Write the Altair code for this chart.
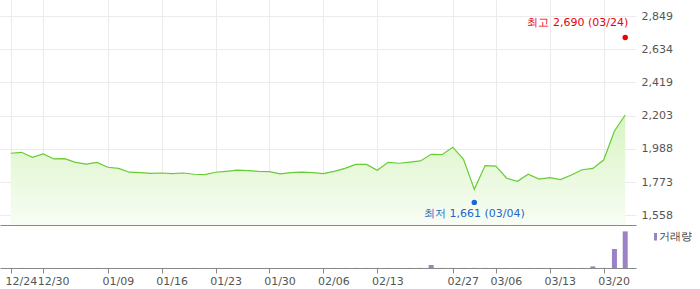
import altair as alt
import pandas as pd

dates = ["12/24", "12/26", "12/27", "12/30", "01/02", "01/03", "01/06", "01/07", "01/08", "01/09",
         "01/10", "01/13", "01/14", "01/15", "01/16", "01/17", "01/20", "01/21", "01/22", "01/23",
         "01/24", "01/27", "01/28", "01/29", "01/30", "01/31", "02/03", "02/04", "02/05", "02/06",
         "02/07", "02/10", "02/11", "02/12", "02/13", "02/14", "02/17", "02/18", "02/24", "02/25",
         "02/26", "02/27", "02/28", "03/04", "03/05", "03/06", "03/07", "03/10", "03/11", "03/12",
         "03/13", "03/14", "03/17", "03/18", "03/19", "03/20", "03/21", "03/24"]
close = [1960, 1966, 1934, 1955, 1923, 1925, 1901, 1890, 1901, 1869,
         1862, 1837, 1834, 1830, 1832, 1828, 1832, 1824, 1821, 1837,
         1843, 1850, 1847, 1843, 1841, 1826, 1834, 1837, 1834, 1828,
         1843, 1862, 1888, 1888, 1850, 1901, 1895, 1903, 1910, 1953,
         1951, 1999, 1921, 1726, 1880, 1877, 1798, 1778, 1824, 1793,
         1802, 1789, 1819, 1853, 1862, 1916, 2104, 2208]
volume = [4000, 3000, 2500, 3500, 2000, 3000, 2500, 2000, 3000, 2500,
          2000, 3000, 2000, 2500, 2000, 1500, 2000, 2500, 2000, 3000,
          2500, 2000, 2000, 1500, 2000, 2500, 2000, 1500, 2000, 3000,
          2500, 3000, 4000, 3500, 3000, 3500, 2500, 3000, 4000, 150000,
          5000, 6000, 5000, 7000, 5000, 4000, 3000, 2500, 3000, 2500,
          2000, 2500, 3000, 4000, 80000, 6000, 950000, 1830000]

x_ticks = ["12/24", "12/30", "01/09", "01/16", "01/23", "01/30", "02/06", "02/13",
           "02/27", "03/06", "03/13", "03/20"]
y_ticks = [1558, 1773, 1988, 2203, 2419, 2634, 2849]
y_domain = [1495, 2953]
vol_domain = [0, 2150000]

high_date, high_val = "03/24", 2690
low_date, low_val = "03/04", 1661
high_label = "최고 2,690 (03/24)"
low_label = "최저 1,661 (03/04)"
vol_label = "거래량"

df = pd.DataFrame({"date": dates, "close": close, "volume": volume})
hi_df = pd.DataFrame({"date": [high_date], "close": [high_val], "label": [high_label]})
lo_df = pd.DataFrame({"date": [low_date], "close": [low_val], "label": [low_label]})

FONT = "DejaVu Sans"
W = 636
xscale = alt.Scale(type="point", domain=dates, padding=1)
yscale = alt.Scale(domain=y_domain, zero=False, nice=False)

x_axis = alt.Axis(values=x_ticks, labels=False, ticks=False, domain=True,
                  domainColor="#888888", grid=True, gridColor="#ebebeb")
y_axis = alt.Axis(orient="right", values=y_ticks, format=",.0f", grid=True,
                  gridColor="#ebebeb", domain=False, ticks=False,
                  labelFont=FONT, labelFontSize=11, labelColor="#555555",
                  labelPadding=5)
x_main = alt.X("date:O", scale=xscale, sort=None, title=None, axis=x_axis)
y_main = alt.Y("close:Q", scale=yscale, title=None, axis=y_axis)

base = alt.Chart(df)
area = base.mark_area(
    color=alt.Gradient(gradient="linear",
                       stops=[alt.GradientStop(color="#d8f4c3", offset=0),
                              alt.GradientStop(color="#f8fdf4", offset=1)],
                       x1=1, x2=1, y1=0, y2=1)
).encode(x=x_main, y=y_main, y2=alt.datum(y_domain[0]))
line = base.mark_line(color="#66cc33", strokeWidth=1.2).encode(x=x_main, y=y_main)

hi_pt = alt.Chart(hi_df).mark_circle(color="#f00000", size=30, opacity=1, yOffset=-3).encode(
    x=x_main, y=y_main)
hi_tx = alt.Chart(hi_df).mark_text(color="#e8000b", font=FONT, fontSize=11, align="right",
                                   baseline="middle", dx=3, dy=-17.5).encode(
    x=x_main, y=y_main, text="label:N")
lo_pt = alt.Chart(lo_df).mark_circle(color="#1a66dd", size=30, opacity=1, yOffset=3).encode(
    x=x_main, y=y_main)
lo_tx = alt.Chart(lo_df).mark_text(color="#2266cc", font=FONT, fontSize=11, align="center",
                                   baseline="middle", dy=15).encode(
    x=x_main, y=y_main, text="label:N")

main = alt.layer(area, line, hi_pt, hi_tx, lo_pt, lo_tx).properties(width=W, height=225)

x_vol = alt.X("date:O", scale=xscale, sort=None, title=None,
              axis=alt.Axis(values=x_ticks, labels=True, ticks=True, tickSize=5,
                            tickColor="#888888", domain=True, domainColor="#888888",
                            grid=False, labelAngle=0, labelFont=FONT, labelFontSize=11,
                            labelColor="#555555", labelPadding=2, labelOffset=10))
bars = base.mark_bar(size=5, color="#9b82c6").encode(
    x=x_vol,
    y=alt.Y("volume:Q", scale=alt.Scale(domain=vol_domain, nice=False), axis=None, title=None))
leg_sq = alt.Chart(pd.DataFrame({"label": [vol_label]})).mark_rect(color="#9b82c6").encode(
    x=alt.value(654), x2=alt.value(657), y=alt.value(8), y2=alt.value(15.5))
leg_tx = alt.Chart(pd.DataFrame({"label": [vol_label]})).mark_text(
    font=FONT, fontSize=11, color="#444444", align="left", baseline="middle").encode(
    x=alt.value(659), y=alt.value(12), text="label:N")

vol = alt.layer(bars, leg_sq, leg_tx).properties(width=W, height=43)

chart = alt.vconcat(main, vol, spacing=0).properties(
    padding=0, background="white"
).configure_view(stroke=None)

chart.save("out.html", embed_options={"renderer": "svg", "actions": False})
